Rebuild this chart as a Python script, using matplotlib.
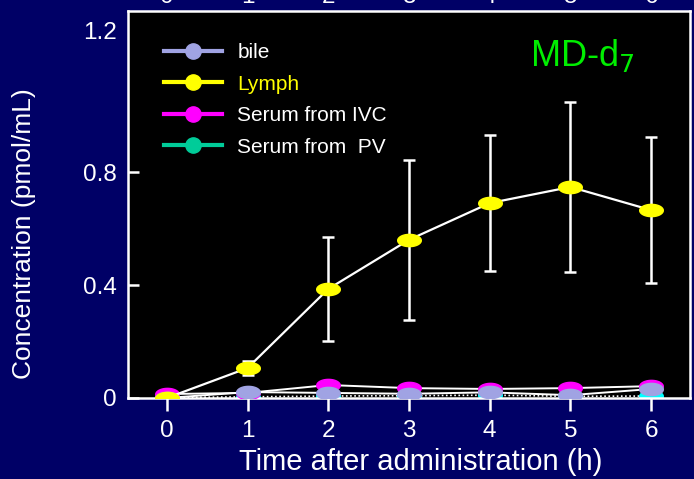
import numpy as np
import matplotlib.pyplot as plt
from matplotlib.path import Path
from matplotlib.lines import Line2D
import matplotlib.transforms as mtransforms

plt.rcParams['font.family'] = ['Liberation Sans', 'DejaVu Sans']

# sampling times (h)
time_h = [0, 1, 2, 3, 4, 5, 6]

# MD-d7 concentration (pmol/mL)
lymph = [0.0, 0.106, 0.386, 0.560, 0.690, 0.747, 0.665]
lymph_sd = [0.0, 0.026, 0.184, 0.283, 0.241, 0.300, 0.258]
bile = [0.0, 0.021, 0.018, 0.015, 0.020, 0.010, 0.032]
serum_ivc = [0.014, 0.018, 0.046, 0.035, 0.032, 0.035, 0.042]
serum_pv = [0.002, 0.004, 0.007, 0.008, 0.010, 0.006, 0.007]

navy = '#000066'
c_bile = '#A0A3E3'
c_lymph = '#FFFF00'
c_ivc = '#FF00FF'
c_pv = '#00FFFF'
c_pv_leg = '#00CC99'

# flattened ellipse used as the data marker
t = np.linspace(0, 2 * np.pi, 60)
ell = Path(np.column_stack([np.cos(t), 0.52 * np.sin(t)]), closed=True)

fig = plt.figure(figsize=(6.94, 4.79), dpi=100, facecolor=navy)
ax = fig.add_axes([128 / 694, 81 / 479, 562 / 694, 387 / 479])
ax.set_facecolor('black')

ax.plot(time_h, serum_pv, color='white', ls=(0, (1, 1.5)), lw=1.2,
        marker=ell, ms=17, mfc=c_pv, mec=c_pv, zorder=2)
ax.plot(time_h, serum_ivc, color='white', lw=1.4,
        marker=ell, ms=17, mfc=c_ivc, mec=c_ivc, zorder=3)
ax.plot(time_h, bile, color='white', lw=1.4,
        marker=ell, ms=17, mfc=c_bile, mec=c_bile, zorder=4)
ax.errorbar(time_h, lymph, yerr=lymph_sd, color='white', lw=1.6,
            elinewidth=1.8, capsize=4, capthick=1.8, zorder=5,
            marker=ell, ms=17, mfc=c_lymph, mec=c_lymph)

ax.set_xlim(-0.48, 6.48)
ax.set_ylim(0, 1.37)
ax.set_xticks(time_h)
ax.set_yticks([0, 0.4, 0.8, 1.2])
ax.set_yticklabels(['0', '0.4', '0.8', '1.2'])

for s in ax.spines.values():
    s.set_color('white')
    s.set_linewidth(1.8)
ax.tick_params(axis='x', direction='out', length=9, width=1.8, colors='white',
               labelsize=17.5, pad=7)
ax.tick_params(axis='y', direction='in', length=8, width=1.8, colors='white',
               labelsize=17.5, pad=8)
# top label sits higher than its tick, no tick mark drawn there
top_tick = ax.yaxis.get_major_ticks()[-1]
top_tick.tick1line.set_visible(False)
top_tick.label1.set_transform(top_tick.label1.get_transform() +
                              mtransforms.ScaledTranslation(0, 29 / 100, fig.dpi_scale_trans))

ax.set_xlabel('Time after administration (h)', color='white', fontsize=21)
ax.set_ylabel('Concentration (pmol/mL)', color='white', fontsize=19)
ax.xaxis.set_label_coords(0.52, -0.13)
ax.yaxis.set_label_coords(-0.164, 0.424)

ax.text(0.715, 0.885, 'MD-d$_7$', transform=ax.transAxes, color='#00EE00',
        fontsize=26, ha='left', va='center')

handles = [
    Line2D([], [], color=c_bile, lw=3, marker='o', ms=11, mfc=c_bile, mec=c_bile),
    Line2D([], [], color=c_lymph, lw=3, marker='o', ms=11, mfc=c_lymph, mec=c_lymph),
    Line2D([], [], color=c_ivc, lw=3, marker='o', ms=11, mfc=c_ivc, mec=c_ivc),
    Line2D([], [], color=c_pv_leg, lw=3, marker='o', ms=11, mfc=c_pv_leg, mec=c_pv_leg),
]
leg = ax.legend(handles, ['bile', 'Lymph', 'Serum from IVC', 'Serum from  PV'],
                loc='upper left', bbox_to_anchor=(0.064, 0.917), frameon=False,
                fontsize=15, borderpad=0, borderaxespad=0, handlelength=2.8,
                handletextpad=0.72, labelspacing=0.6)
for txt, col in zip(leg.get_texts(), ['white', c_lymph, 'white', 'white']):
    txt.set_color(col)

# bottom of the tick labels of the panel above
trans = mtransforms.blended_transform_factory(ax.transData, fig.transFigure)
for x in time_h:
    fig.text(x, 1 - 3 / 479, str(x), transform=trans, color='white',
             fontsize=17.5, ha='center', va='baseline')

fig.savefig('out.png', dpi=100, facecolor=navy)
